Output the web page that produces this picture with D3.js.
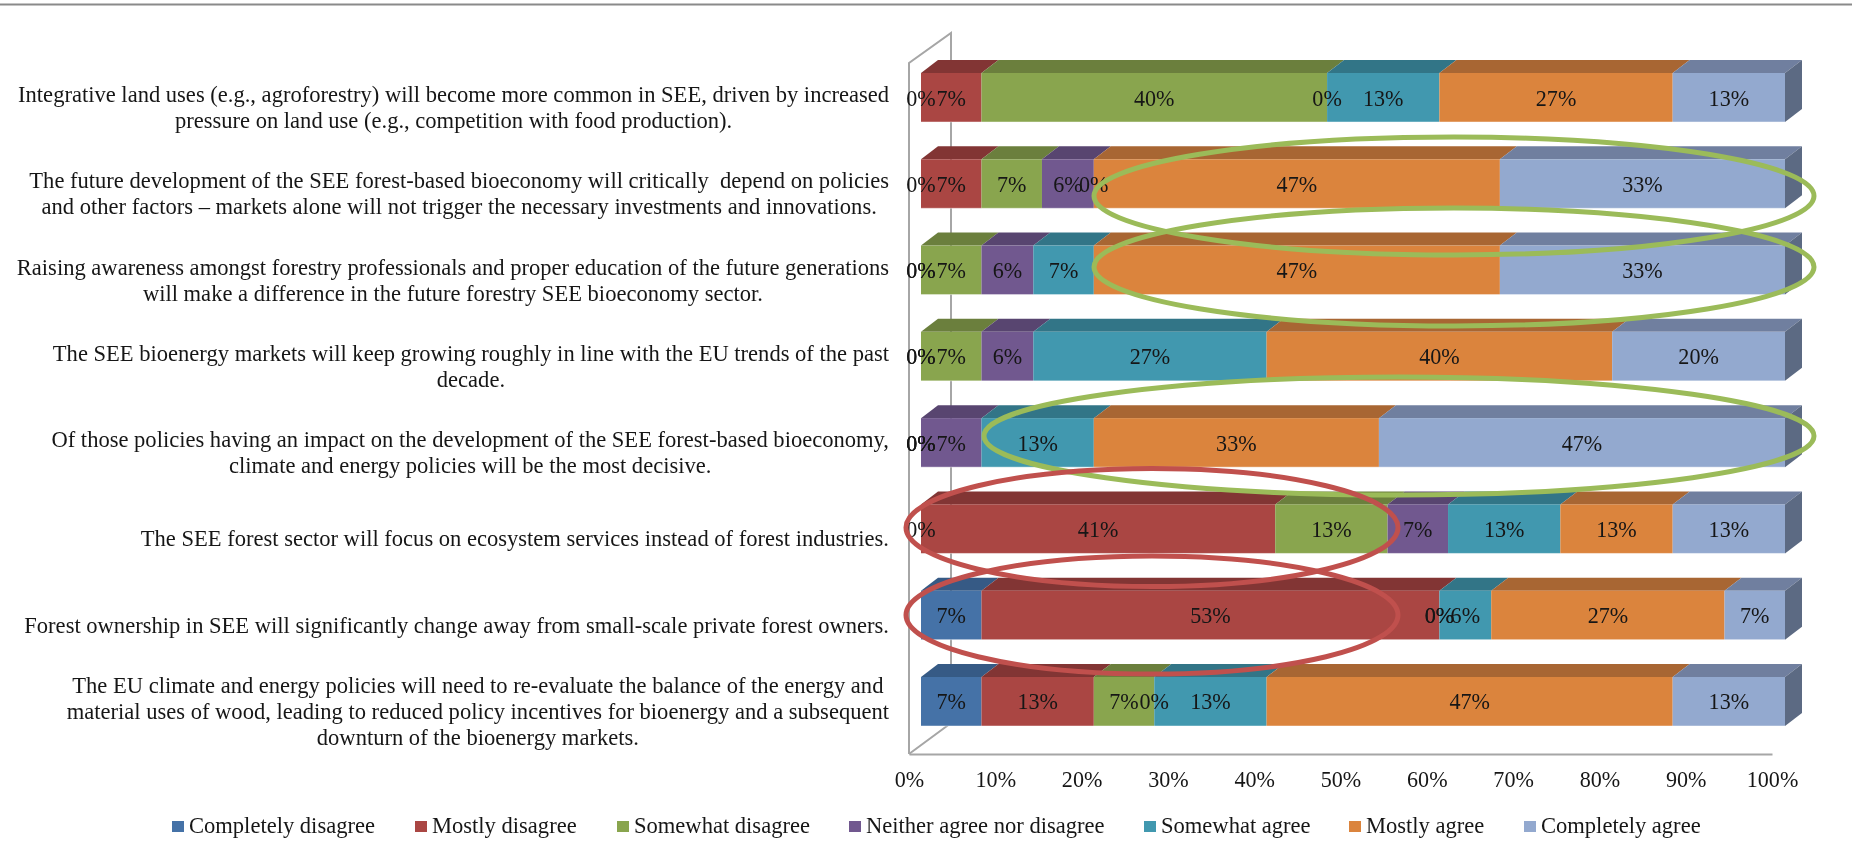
<!DOCTYPE html>
<html><head><meta charset="utf-8">
<script src="https://cdn.jsdelivr.net/npm/d3@7"></script>
<style>
html,body{margin:0;padding:0;background:#fff;overflow:hidden}
svg{display:block;filter:blur(0.35px)}
text{font-family:"Liberation Serif","Times New Roman",serif;fill:#161616;white-space:pre}
</style></head><body>
<svg id="c" width="1852" height="851"></svg>
<script>
const categories = [
 ["Integrative land uses (e.g., agroforestry) will become more common in SEE, driven by increased","pressure on land use (e.g., competition with food production)."],
 ["The future development of the SEE forest-based bioeconomy will critically  depend on policies","and other factors – markets alone will not trigger the necessary investments and innovations."],
 ["Raising awareness amongst forestry professionals and proper education of the future generations","will make a difference in the future forestry SEE bioeconomy sector."],
 ["The SEE bioenergy markets will keep growing roughly in line with the EU trends of the past","decade."],
 ["Of those policies having an impact on the development of the SEE forest-based bioeconomy,","climate and energy policies will be the most decisive."],
 ["The SEE forest sector will focus on ecosystem services instead of forest industries."],
 ["Forest ownership in SEE will significantly change away from small-scale private forest owners."],
 ["The EU climate and energy policies will need to re-evaluate the balance of the energy and","material uses of wood, leading to reduced policy incentives for bioenergy and a subsequent","downturn of the bioenergy markets."]
];
const seriesNames = ["Completely disagree","Mostly disagree","Somewhat disagree","Neither agree nor disagree","Somewhat agree","Mostly agree","Completely agree"];
const completelyDisagree = [0,0,0,0,0,0,7,7];
const mostlyDisagree     = [7,7,0,0,0,41,53,13];
const somewhatDisagree   = [40,7,7,7,0,13,0,7];
const neitherAgree       = [0,6,6,6,7,7,0,0];
const somewhatAgree      = [13,0,7,27,13,13,6,13];
const mostlyAgree        = [27,47,47,40,33,13,27,47];
const completelyAgree    = [13,33,33,20,47,13,7,13];
const allSeries = [completelyDisagree,mostlyDisagree,somewhatDisagree,neitherAgree,somewhatAgree,mostlyAgree,completelyAgree];
const frontColors = ["#4572A7","#AA4643","#89A54E","#71588F","#4198AF","#DB843D","#93A9CF"];
const topColors   = ["#365A85","#823534","#6B7F3D","#584570","#327587","#A86633","#707F9F"];
const sideColor = "#5C6A83";
const axisTicks = [0,10,20,30,40,50,60,70,80,90,100];
const legendSwatchX = [172,415,617,849,1144,1349,1524];

const svg = d3.select("#c");
const FS = 22.1, FSL = 22.55, DX = 17, DY = 13;
const xBar = d3.scaleLinear().domain([0,100]).range([921,1785]);
const xAxis = d3.scaleLinear().domain([0,100]).range([909,1772]);
const y = d3.scaleBand().domain(d3.range(categories.length)).range([73,726]).paddingInner(0.432);

// top rule
svg.append("line").attr("x1",0).attr("x2",1852).attr("y1",4.5).attr("y2",4.5).attr("stroke","#8a8a8a").attr("stroke-width",2);

// walls
const wall = svg.append("g").attr("fill","none").attr("stroke","#a6a6a6").attr("stroke-width",2);
wall.append("path").attr("d",`M${xAxis(0)},754 V63 L951,33 V723 L${xAxis(0)},754`);

// axis
const ax = svg.append("g").attr("transform","translate(0,754)")
  .call(d3.axisBottom(xAxis).tickValues(axisTicks).tickSize(0).tickPadding(14).tickFormat(d=>d+"%"));
ax.select(".domain").attr("stroke","#a6a6a6").attr("stroke-width",2);
ax.selectAll("text").attr("font-size",FS).attr("font-family",null).attr("dy",null).attr("y",33);

// bars
categories.forEach((_,r)=>{
  const g = svg.append("g");
  const yf = y(r), h = y.bandwidth();
  let cum = 0;
  const segs = allSeries.map((s,k)=>{const o={k,v:s[r],a:cum,b:cum+s[r]};cum+=s[r];return o;});
  segs.filter(d=>d.v>0).forEach(d=>{
    const x0=xBar(d.a),x1=xBar(d.b);
    g.append("path").attr("d",`M${x0},${yf} L${x0+DX},${yf-DY} H${x1+DX} L${x1},${yf} Z`).attr("fill",topColors[d.k]);
    g.append("rect").attr("x",x0).attr("y",yf).attr("width",x1-x0).attr("height",h).attr("fill",frontColors[d.k]);
  });
  const xe=xBar(cum);
  g.append("path").attr("d",`M${xe},${yf} L${xe+DX},${yf-DY} V${yf+h-DY} L${xe},${yf+h} Z`).attr("fill",sideColor);
  g.append("path").attr("d",`M${xBar(0)},${yf+h} H${xe}`).attr("stroke","#fff").attr("stroke-opacity",.45).attr("stroke-width",1);
  segs.forEach(d=>{
    g.append("text").attr("x",xBar((d.a+d.b)/2)).attr("y",yf+h/2+8).attr("text-anchor","middle").attr("font-size",FS).text(d.v+"%");
  });
});

// category labels
categories.forEach((lines,r)=>{
  const g = svg.append("g");
  const mid = y(r)+y.bandwidth()/2+17.5;
  const ts = lines.map((l,i)=>g.append("text").attr("font-size",FSL).attr("text-anchor","middle")
      .attr("y",mid+(i-(lines.length-1)/2)*26).text(l));
  const w = d3.max(ts,t=>t.node().getComputedTextLength());
  ts.forEach(t=>t.attr("x",889-w/2));
});

// legend
seriesNames.forEach((n,i)=>{
  svg.append("rect").attr("x",legendSwatchX[i]).attr("y",821).attr("width",12).attr("height",11).attr("fill",frontColors[i]);
  svg.append("text").attr("x",legendSwatchX[i]+17).attr("y",833).attr("font-size",FSL).text(n);
});

// callout ellipses
const ellipseCx=[1454,1454,1399,1152,1152], ellipseCy=[196,267,436,527.5,615], ellipseRx=[360,360,415,246,246], ellipseRy=[59,59,59,59,59];
const ellipseColors=["#9BBB59","#9BBB59","#9BBB59","#C0504D","#C0504D"];
svg.append("g").selectAll("ellipse").data(ellipseCx).join("ellipse")
  .attr("cx",d=>d).attr("cy",(d,i)=>ellipseCy[i]).attr("rx",(d,i)=>ellipseRx[i]).attr("ry",(d,i)=>ellipseRy[i])
  .attr("fill","none").attr("stroke",(d,i)=>ellipseColors[i]).attr("stroke-width",5);
</script></body></html>
